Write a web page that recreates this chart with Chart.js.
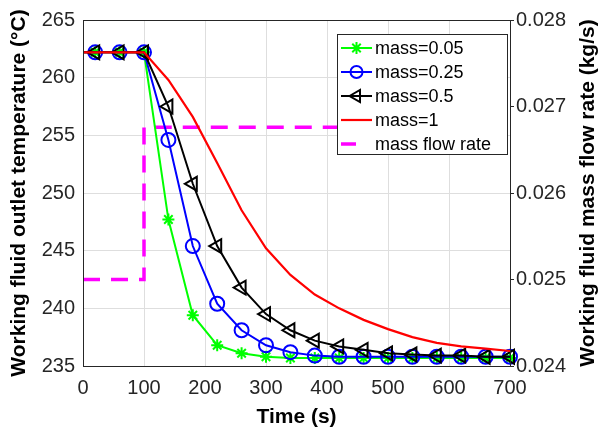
<!DOCTYPE html>
<html>
<head>
<meta charset="utf-8">
<script src="https://cdn.jsdelivr.net/npm/chart.js@4.4.1/dist/chart.umd.min.js"></script>
<style>
  html, body { margin: 0; padding: 0; background: #fff; }
  #wrap { width: 598px; height: 431px; }
</style>
</head>
<body>
<div id="wrap"><canvas id="chart"></canvas></div>
<script>
// time samples (s)
const times = [0, 20, 60, 100, 140, 180, 220, 260, 300, 340, 380, 420, 460, 500, 540, 580, 620, 660, 700];

// outlet temperature (°C) for each thermal mass
const mass005 = [262.2, 262.2, 262.2, 262.2, 247.7, 239.4, 236.8, 236.1, 235.8, 235.7, 235.7, 235.7, 235.7, 235.7, 235.7, 235.7, 235.7, 235.7, 235.7];
const mass025 = [262.2, 262.2, 262.2, 262.2, 254.6, 245.4, 240.4, 238.1, 236.8, 236.2, 235.9, 235.8, 235.8, 235.8, 235.8, 235.8, 235.8, 235.8, 235.8];
const mass05  = [262.2, 262.2, 262.2, 262.2, 257.5, 250.8, 245.4, 241.8, 239.5, 238.1, 237.2, 236.7, 236.4, 236.1, 236.0, 235.9, 235.9, 235.8, 235.8];
const mass1   = [262.2, 262.2, 262.2, 262.2, 259.8, 256.6, 252.6, 248.5, 245.2, 242.9, 241.2, 240.0, 239.0, 238.2, 237.5, 237.0, 236.7, 236.5, 236.3];

// mass flow rate step (kg/s)
const flowTimes = [0, 100, 100, 700];
const flowRate = [0.025, 0.025, 0.02676, 0.02676];

// axis ticks
const xTicks = [0, 100, 200, 300, 400, 500, 600, 700];
const tempTicks = [235, 240, 245, 250, 255, 260, 265];
const flowTicks = [0.024, 0.025, 0.026, 0.027, 0.028];

const labels = ['mass=0.05', 'mass=0.25', 'mass=0.5', 'mass=1', 'mass flow rate'];

function pts(xs, ys) {
    return xs.map((x, i) => ({ x: x, y: ys[i] }));
}

// no marker on the very first sample
function markerSize(r) {
    return ctx => ctx.dataIndex === 0 ? 0 : r;
}

const tickFont = { family: 'Liberation Sans, Arial, sans-serif', size: 20 };
const titleFont = { family: 'Liberation Sans, Arial, sans-serif', size: 21, weight: 'bold' };

// box around plot area
const frame = {
    id: 'frame',
    afterDatasetsDraw(chart) {
        const a = chart.chartArea;
        const ctx = chart.ctx;
        ctx.save();
        ctx.strokeStyle = '#262626';
        ctx.lineWidth = 1;
        ctx.strokeRect(Math.round(a.left) + 0.5, Math.round(a.top) + 0.5, Math.round(a.right - a.left), Math.round(a.bottom - a.top));
        ctx.restore();
    }
};

// right axis title, reading bottom to top like MATLAB
const rightTitle = {
    id: 'rightTitle',
    afterDraw(chart) {
        const ctx = chart.ctx;
        const a = chart.chartArea;
        ctx.save();
        ctx.translate(chart.width - 10, (a.top + a.bottom) / 2);
        ctx.rotate(-Math.PI / 2);
        ctx.font = 'bold 21px "Liberation Sans", Arial, sans-serif';
        ctx.fillStyle = '#000';
        ctx.textAlign = 'center';
        ctx.textBaseline = 'middle';
        ctx.fillText('Working fluid mass flow rate (kg/s)', 0, 0);
        ctx.restore();
    }
};

// boxed legend in the top right corner
const boxLegend = {
    id: 'boxLegend',
    afterDraw(chart) {
        const ctx = chart.ctx;
        const a = chart.chartArea;
        const w = 170, h = 120;
        const x0 = a.right - 3 - w, y0 = a.top + 14;
        ctx.save();
        ctx.fillStyle = '#fff';
        ctx.fillRect(x0, y0, w, h);
        ctx.strokeStyle = '#262626';
        ctx.lineWidth = 1;
        ctx.strokeRect(Math.round(x0) + 0.5, Math.round(y0) + 0.5, w, h);
        ctx.font = '18px "Liberation Sans", Arial, sans-serif';
        ctx.textBaseline = 'middle';
        chart.data.datasets.forEach((ds, i) => {
            const y = y0 + 14 + i * 24;
            const lx = x0 + 4, rx = x0 + 35;
            ctx.save();
            ctx.strokeStyle = ds.borderColor;
            ctx.lineWidth = ds.borderWidth;
            ctx.setLineDash(ds.borderDash || []);
            ctx.beginPath();
            ctx.moveTo(lx, y);
            ctx.lineTo(ds.borderDash ? lx + 15 : rx, y);
            ctx.stroke();
            ctx.setLineDash([]);
            if (ds.pointStyle && ds.legendRadius) {
                ctx.strokeStyle = ds.pointBorderColor;
                ctx.fillStyle = 'rgba(0,0,0,0)';
                ctx.lineWidth = ds.pointBorderWidth;
                Chart.helpers.drawPoint(ctx, {
                    pointStyle: ds.pointStyle,
                    rotation: ds.pointRotation || 0,
                    radius: ds.legendRadius,
                    borderWidth: ds.pointBorderWidth
                }, (lx + rx) / 2, y);
            }
            ctx.restore();
            ctx.fillStyle = '#000';
            ctx.fillText(labels[i], x0 + 38, y + 1);
        });
        ctx.restore();
    }
};

new Chart(document.getElementById('chart'), {
    type: 'line',
    data: {
        datasets: [
            {
                label: labels[0], data: pts(times, mass005), yAxisID: 'y', order: 4,
                borderColor: '#00ff00', borderWidth: 2, pointStyle: 'star',
                pointRadius: markerSize(6), legendRadius: 6, pointBorderColor: '#00ff00',
                pointBackgroundColor: 'rgba(0,0,0,0)', pointBorderWidth: 2
            },
            {
                label: labels[1], data: pts(times, mass025), yAxisID: 'y', order: 3,
                borderColor: '#0000ff', borderWidth: 2, pointStyle: 'circle',
                pointRadius: markerSize(7), legendRadius: 6, pointBorderColor: '#0000ff',
                pointBackgroundColor: 'rgba(0,0,0,0)', pointBorderWidth: 2
            },
            {
                label: labels[2], data: pts(times, mass05), yAxisID: 'y', order: 2,
                borderColor: '#000000', borderWidth: 2, pointStyle: 'triangle', pointRotation: -90,
                pointRadius: markerSize(8), legendRadius: 7, pointBorderColor: '#000000',
                pointBackgroundColor: 'rgba(0,0,0,0)', pointBorderWidth: 2
            },
            {
                label: labels[3], data: pts(times, mass1), yAxisID: 'y', order: 1,
                borderColor: '#ff0000', borderWidth: 2.2, pointRadius: 0
            },
            {
                label: labels[4], data: pts(flowTimes, flowRate), yAxisID: 'y2', order: 5,
                borderColor: '#ff00ff', borderWidth: 3.5, borderDash: [17, 11], pointRadius: 0
            }
        ]
    },
    options: {
        responsive: true,
        maintainAspectRatio: false,
        animation: false,
        layout: { padding: { top: 16, right: 0, left: 0, bottom: 0 } },
        plugins: { legend: { display: false }, tooltip: { enabled: false } },
        elements: { line: { tension: 0, fill: false } },
        datasets: { line: { clip: 12 } },
        scales: {
            x: {
                type: 'linear', min: 0, max: 700,
                afterFit: s => { s.height = 65; },
                afterBuildTicks: s => { s.ticks = xTicks.map(v => ({ value: v })); },
                grid: { color: '#dedede', drawTicks: false },
                border: { display: false },
                ticks: { font: tickFont, color: '#262626', padding: 10, maxRotation: 0 },
                title: { display: true, text: 'Time (s)', font: titleFont, color: '#000', padding: { top: 0, bottom: 1 } }
            },
            y: {
                type: 'linear', position: 'left', min: 235, max: 265,
                afterFit: s => { s.width = 83; },
                afterBuildTicks: s => { s.ticks = tempTicks.map(v => ({ value: v })); },
                grid: { color: '#dedede', drawTicks: false },
                border: { display: false },
                ticks: { font: tickFont, color: '#262626', padding: 8 },
                title: { display: true, text: 'Working fluid outlet temperature (°C)', font: titleFont, color: '#000', padding: { top: 7, bottom: 0 } }
            },
            y2: {
                type: 'linear', position: 'right', min: 0.024, max: 0.028,
                afterFit: s => { s.width = 88; },
                afterBuildTicks: s => { s.ticks = flowTicks.map(v => ({ value: v })); },
                grid: { drawOnChartArea: false, tickLength: 4, color: '#262626' },
                border: { display: false },
                ticks: { font: tickFont, color: '#262626', padding: 2, callback: v => v.toFixed(3) }
            }
        }
    },
    plugins: [frame, rightTitle, boxLegend]
});
</script>
</body>
</html>
